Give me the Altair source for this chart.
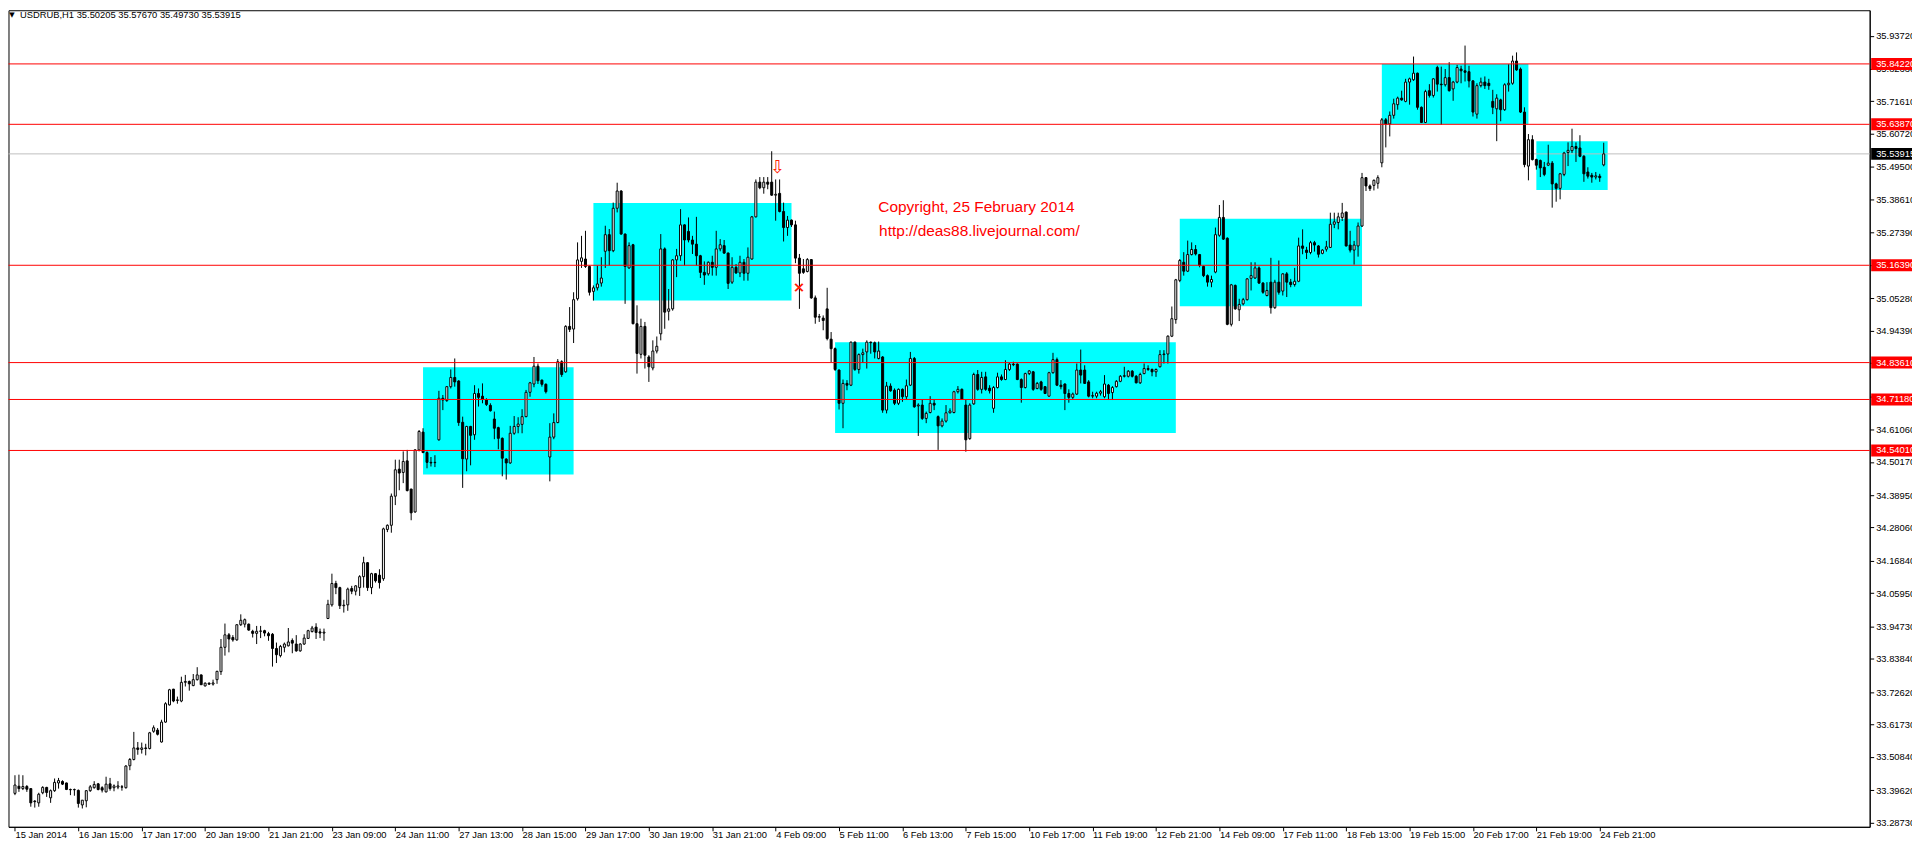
import altair as alt
import pandas as pd

# ---------------- data (USDRUB, H1, 15 Jan 2014 13:00 .. 25 Feb 2014 08:00) ----------------
opens = [
    33.385, 33.409, 33.401, 33.408, 33.401, 33.359, 33.353, 33.387, 33.405, 33.370,
    33.394, 33.420, 33.425, 33.420, 33.398, 33.397, 33.395, 33.346, 33.360, 33.394,
    33.404, 33.417, 33.404, 33.390, 33.417, 33.404, 33.406, 33.407, 33.404, 33.478,
    33.499, 33.538, 33.533, 33.538, 33.536, 33.594, 33.598, 33.558, 33.625, 33.683,
    33.736, 33.698, 33.696, 33.759, 33.762, 33.748, 33.768, 33.784, 33.747, 33.756,
    33.753, 33.768, 33.795, 33.877, 33.919, 33.910, 33.902, 33.953, 33.955, 33.955,
    33.931, 33.924, 33.931, 33.933, 33.923, 33.921, 33.873, 33.849, 33.877, 33.882,
    33.900, 33.888, 33.865, 33.888, 33.907, 33.930, 33.945, 33.929, 33.925, 33.974,
    34.020, 34.092, 34.078, 34.017, 34.020, 34.075, 34.066, 34.078, 34.115, 34.162,
    34.078, 34.125, 34.120, 34.108, 34.274, 34.288, 34.386, 34.477, 34.466, 34.505,
    34.410, 34.333, 34.542, 34.602, 34.533, 34.500, 34.499, 34.576, 34.716, 34.708,
    34.755, 34.786, 34.774, 34.635, 34.511, 34.621, 34.593, 34.732, 34.723, 34.710,
    34.692, 34.646, 34.617, 34.581, 34.511, 34.498, 34.598, 34.621, 34.628, 34.654,
    34.736, 34.764, 34.824, 34.777, 34.763, 34.518, 34.585, 34.634, 34.839, 34.805,
    34.958, 34.949, 35.051, 35.177, 35.185, 35.160, 35.076, 35.088, 35.104, 35.211,
    35.267, 35.213, 35.356, 35.414, 35.269, 35.155, 35.233, 34.967, 34.864, 34.958,
    34.855, 34.818, 34.875, 34.933, 35.219, 35.009, 35.017, 35.182, 35.196, 35.300,
    35.278, 35.249, 35.235, 35.196, 35.140, 35.135, 35.174, 35.157, 35.219, 35.230,
    35.205, 35.107, 35.157, 35.138, 35.174, 35.137, 35.185, 35.327, 35.444, 35.425,
    35.444, 35.444, 35.400, 35.406, 35.345, 35.291, 35.316, 35.300, 35.188, 35.152,
    35.143, 35.183, 35.054, 34.989, 34.986, 35.017, 34.915, 34.883, 34.811, 34.699,
    34.766, 34.760, 34.905, 34.813, 34.863, 34.872, 34.905, 34.903, 34.850, 34.855,
    34.676, 34.757, 34.743, 34.699, 34.746, 34.721, 34.760, 34.850, 34.690, 34.693,
    34.648, 34.668, 34.699, 34.654, 34.623, 34.639, 34.667, 34.668, 34.738, 34.746,
    34.693, 34.580, 34.697, 34.796, 34.746, 34.788, 34.750, 34.682, 34.752, 34.788,
    34.779, 34.813, 34.831, 34.831, 34.779, 34.752, 34.799, 34.805, 34.749, 34.771,
    34.755, 34.723, 34.802, 34.846, 34.760, 34.764, 34.732, 34.719, 34.730, 34.811,
    34.811, 34.771, 34.723, 34.723, 34.733, 34.721, 34.760, 34.735, 34.755, 34.773,
    34.790, 34.790, 34.807, 34.790, 34.768, 34.799, 34.816, 34.813, 34.805, 34.822,
    34.863, 34.865, 34.925, 34.981, 35.113, 35.174, 35.144, 35.200, 35.217, 35.200,
    35.160, 35.129, 35.107, 35.141, 35.265, 35.325, 35.255, 34.965, 35.096, 35.014,
    35.034, 35.048, 35.120, 35.121, 35.155, 35.104, 35.062, 35.107, 35.021, 35.107,
    35.077, 35.135, 35.107, 35.099, 35.110, 35.229, 35.215, 35.207, 35.240, 35.229,
    35.204, 35.218, 35.224, 35.302, 35.308, 35.325, 35.343, 35.232, 35.215, 35.229,
    35.296, 35.459, 35.431, 35.433, 35.440, 35.509, 35.654, 35.640, 35.669, 35.705,
    35.727, 35.716, 35.781, 35.789, 35.811, 35.696, 35.645, 35.752, 35.736, 35.830,
    35.774, 35.772, 35.796, 35.758, 35.781, 35.825, 35.819, 35.816, 35.785, 35.673,
    35.769, 35.781, 35.777, 35.716, 35.691, 35.721, 35.688, 35.772, 35.777, 35.852,
    35.825, 35.680, 35.498, 35.587, 35.520, 35.517, 35.494, 35.501, 35.508, 35.438,
    35.423, 35.470, 35.544, 35.550, 35.564, 35.559, 35.531, 35.478, 35.467, 35.461,
    35.464, 35.50205,
]
highs = [
    33.446, 33.448, 33.446, 33.413, 33.401, 33.362, 33.387, 33.409, 33.407, 33.398,
    33.435, 33.437, 33.429, 33.421, 33.401, 33.401, 33.398, 33.362, 33.396, 33.413,
    33.426, 33.420, 33.409, 33.441, 33.437, 33.415, 33.426, 33.413, 33.480, 33.504,
    33.592, 33.558, 33.556, 33.552, 33.592, 33.614, 33.605, 33.633, 33.692, 33.737,
    33.737, 33.711, 33.778, 33.784, 33.765, 33.787, 33.810, 33.785, 33.759, 33.759,
    33.768, 33.798, 33.905, 33.957, 33.925, 33.918, 33.955, 33.988, 33.974, 33.957,
    33.936, 33.949, 33.949, 33.936, 33.929, 33.925, 33.893, 33.885, 33.893, 33.942,
    33.907, 33.918, 33.891, 33.921, 33.936, 33.949, 33.958, 33.940, 33.940, 34.037,
    34.125, 34.101, 34.081, 34.037, 34.078, 34.084, 34.086, 34.120, 34.182, 34.164,
    34.128, 34.127, 34.140, 34.280, 34.291, 34.395, 34.509, 34.509, 34.537, 34.542,
    34.411, 34.544, 34.609, 34.615, 34.537, 34.518, 34.524, 34.741, 34.727, 34.757,
    34.813, 34.850, 34.777, 34.654, 34.623, 34.623, 34.760, 34.749, 34.766, 34.716,
    34.699, 34.671, 34.620, 34.584, 34.514, 34.623, 34.656, 34.652, 34.679, 34.744,
    34.771, 34.855, 34.833, 34.779, 34.766, 34.632, 34.665, 34.848, 34.844, 34.962,
    35.023, 35.073, 35.241, 35.263, 35.280, 35.163, 35.096, 35.163, 35.191, 35.297,
    35.286, 35.375, 35.442, 35.417, 35.271, 35.241, 35.236, 35.029, 34.984, 34.973,
    34.861, 34.911, 34.924, 35.269, 35.224, 35.084, 35.185, 35.219, 35.353, 35.302,
    35.325, 35.263, 35.327, 35.199, 35.177, 35.177, 35.196, 35.280, 35.252, 35.249,
    35.207, 35.191, 35.168, 35.196, 35.185, 35.224, 35.330, 35.453, 35.461, 35.461,
    35.461, 35.548, 35.453, 35.453, 35.375, 35.330, 35.318, 35.314, 35.202, 35.185,
    35.188, 35.185, 35.062, 35.000, 34.995, 35.088, 34.939, 34.887, 34.813, 34.779,
    34.777, 34.907, 34.907, 34.867, 34.883, 34.911, 34.907, 34.907, 34.907, 34.858,
    34.771, 34.766, 34.749, 34.749, 34.749, 34.779, 34.872, 34.855, 34.699, 34.712,
    34.671, 34.723, 34.712, 34.658, 34.648, 34.693, 34.682, 34.741, 34.757, 34.749,
    34.710, 34.699, 34.802, 34.811, 34.805, 34.805, 34.760, 34.757, 34.802, 34.796,
    34.844, 34.835, 34.839, 34.833, 34.783, 34.802, 34.811, 34.808, 34.771, 34.775,
    34.757, 34.805, 34.869, 34.853, 34.777, 34.766, 34.746, 34.735, 34.833, 34.880,
    34.827, 34.777, 34.738, 34.738, 34.744, 34.794, 34.764, 34.757, 34.777, 34.794,
    34.822, 34.811, 34.811, 34.794, 34.802, 34.833, 34.827, 34.816, 34.816, 34.878,
    34.878, 34.928, 35.025, 35.118, 35.185, 35.208, 35.247, 35.241, 35.232, 35.202,
    35.163, 35.133, 35.129, 35.291, 35.367, 35.383, 35.258, 35.101, 35.099, 35.051,
    35.054, 35.121, 35.174, 35.174, 35.160, 35.107, 35.107, 35.189, 35.115, 35.180,
    35.137, 35.141, 35.118, 35.155, 35.257, 35.285, 35.226, 35.246, 35.246, 35.232,
    35.218, 35.246, 35.341, 35.341, 35.341, 35.374, 35.345, 35.280, 35.246, 35.308,
    35.475, 35.461, 35.436, 35.453, 35.467, 35.660, 35.660, 35.682, 35.725, 35.732,
    35.752, 35.792, 35.796, 35.867, 35.813, 35.699, 35.755, 35.774, 35.794, 35.836,
    35.833, 35.825, 35.848, 35.785, 35.839, 35.836, 35.904, 35.836, 35.788, 35.777,
    35.796, 35.800, 35.792, 35.755, 35.740, 35.725, 35.777, 35.841, 35.870, 35.881,
    35.830, 35.696, 35.606, 35.602, 35.523, 35.520, 35.512, 35.570, 35.515, 35.442,
    35.475, 35.546, 35.578, 35.624, 35.578, 35.602, 35.535, 35.494, 35.475, 35.478,
    35.472, 35.57670,
]
lows = [
    33.379, 33.390, 33.396, 33.390, 33.340, 33.337, 33.340, 33.382, 33.373, 33.353,
    33.390, 33.401, 33.413, 33.396, 33.379, 33.377, 33.337, 33.334, 33.338, 33.390,
    33.401, 33.395, 33.388, 33.388, 33.394, 33.392, 33.399, 33.394, 33.401, 33.463,
    33.496, 33.515, 33.519, 33.513, 33.533, 33.589, 33.580, 33.556, 33.623, 33.681,
    33.692, 33.687, 33.692, 33.745, 33.731, 33.746, 33.765, 33.750, 33.745, 33.750,
    33.748, 33.754, 33.784, 33.849, 33.860, 33.896, 33.899, 33.949, 33.944, 33.933,
    33.910, 33.888, 33.908, 33.914, 33.899, 33.812, 33.824, 33.843, 33.860, 33.880,
    33.857, 33.862, 33.862, 33.885, 33.905, 33.927, 33.905, 33.908, 33.899, 33.972,
    34.014, 34.056, 34.006, 33.994, 34.000, 34.056, 34.052, 34.050, 34.078, 34.067,
    34.056, 34.095, 34.075, 34.101, 34.265, 34.263, 34.356, 34.406, 34.430, 34.402,
    34.305, 34.330, 34.537, 34.531, 34.480, 34.486, 34.484, 34.573, 34.676, 34.704,
    34.749, 34.755, 34.623, 34.414, 34.470, 34.490, 34.576, 34.688, 34.699, 34.690,
    34.671, 34.578, 34.544, 34.453, 34.442, 34.495, 34.593, 34.598, 34.598, 34.652,
    34.721, 34.753, 34.764, 34.755, 34.732, 34.436, 34.578, 34.632, 34.788, 34.802,
    34.939, 34.902, 35.045, 35.155, 35.155, 35.062, 35.045, 35.079, 35.092, 35.155,
    35.163, 35.208, 35.342, 35.267, 35.034, 35.152, 34.965, 34.799, 34.850, 34.816,
    34.771, 34.810, 34.867, 34.911, 34.950, 34.978, 35.011, 35.124, 35.179, 35.163,
    35.241, 35.202, 35.163, 35.121, 35.098, 35.129, 35.129, 35.129, 35.211, 35.202,
    35.084, 35.101, 35.135, 35.124, 35.112, 35.112, 35.183, 35.325, 35.420, 35.405,
    35.420, 35.398, 35.314, 35.342, 35.244, 35.263, 35.293, 35.171, 35.017, 35.135,
    35.140, 35.051, 34.967, 34.973, 34.945, 34.911, 34.838, 34.808, 34.678, 34.615,
    34.743, 34.757, 34.808, 34.799, 34.835, 34.816, 34.866, 34.850, 34.847, 34.667,
    34.665, 34.738, 34.693, 34.693, 34.704, 34.710, 34.757, 34.684, 34.589, 34.643,
    34.632, 34.665, 34.676, 34.542, 34.618, 34.634, 34.665, 34.665, 34.732, 34.710,
    34.536, 34.576, 34.694, 34.741, 34.732, 34.741, 34.732, 34.667, 34.749, 34.775,
    34.777, 34.808, 34.824, 34.777, 34.701, 34.749, 34.794, 34.741, 34.746, 34.741,
    34.730, 34.721, 34.799, 34.757, 34.746, 34.676, 34.701, 34.712, 34.727, 34.766,
    34.764, 34.719, 34.716, 34.716, 34.725, 34.716, 34.710, 34.710, 34.752, 34.770,
    34.786, 34.786, 34.786, 34.766, 34.764, 34.797, 34.808, 34.790, 34.788, 34.820,
    34.833, 34.833, 34.922, 34.967, 35.107, 35.129, 35.141, 35.197, 35.197, 35.157,
    35.124, 35.092, 35.090, 35.137, 35.260, 35.249, 34.962, 34.958, 35.014, 34.976,
    35.029, 35.045, 35.079, 35.118, 35.101, 35.068, 35.059, 35.001, 35.017, 35.065,
    35.062, 35.057, 35.090, 35.092, 35.107, 35.201, 35.185, 35.201, 35.210, 35.190,
    35.201, 35.210, 35.222, 35.289, 35.285, 35.313, 35.227, 35.207, 35.166, 35.193,
    35.293, 35.414, 35.414, 35.416, 35.422, 35.494, 35.561, 35.598, 35.658, 35.688,
    35.718, 35.713, 35.705, 35.785, 35.688, 35.643, 35.643, 35.729, 35.729, 35.749,
    35.637, 35.766, 35.749, 35.718, 35.777, 35.777, 35.783, 35.763, 35.665, 35.658,
    35.763, 35.758, 35.755, 35.673, 35.582, 35.649, 35.684, 35.749, 35.772, 35.819,
    35.677, 35.494, 35.450, 35.517, 35.486, 35.461, 35.464, 35.498, 35.358, 35.378,
    35.386, 35.464, 35.498, 35.542, 35.512, 35.528, 35.445, 35.456, 35.442, 35.453,
    35.445, 35.49730,
]
closes = [
    33.413, 33.401, 33.408, 33.399, 33.353, 33.357, 33.382, 33.405, 33.388, 33.394,
    33.422, 33.428, 33.416, 33.398, 33.397, 33.398, 33.351, 33.362, 33.394, 33.407,
    33.415, 33.398, 33.396, 33.416, 33.401, 33.410, 33.410, 33.406, 33.477, 33.499,
    33.538, 33.533, 33.538, 33.536, 33.589, 33.606, 33.584, 33.625, 33.687, 33.734,
    33.696, 33.700, 33.759, 33.762, 33.754, 33.768, 33.784, 33.751, 33.756, 33.753,
    33.757, 33.796, 33.877, 33.919, 33.905, 33.902, 33.953, 33.968, 33.970, 33.935,
    33.924, 33.931, 33.932, 33.925, 33.916, 33.873, 33.852, 33.880, 33.888, 33.895,
    33.891, 33.865, 33.888, 33.908, 33.933, 33.942, 33.927, 33.925, 33.928, 34.022,
    34.092, 34.078, 34.017, 34.019, 34.073, 34.066, 34.084, 34.115, 34.162, 34.078,
    34.125, 34.101, 34.095, 34.276, 34.288, 34.386, 34.475, 34.464, 34.503, 34.405,
    34.330, 34.542, 34.604, 34.533, 34.500, 34.498, 34.500, 34.716, 34.710, 34.755,
    34.786, 34.771, 34.634, 34.512, 34.621, 34.591, 34.732, 34.719, 34.712, 34.695,
    34.674, 34.615, 34.581, 34.514, 34.498, 34.598, 34.621, 34.629, 34.654, 34.736,
    34.768, 34.824, 34.775, 34.763, 34.738, 34.585, 34.634, 34.839, 34.796, 34.958,
    34.948, 35.048, 35.182, 35.189, 35.160, 35.073, 35.088, 35.101, 35.121, 35.267,
    35.213, 35.356, 35.414, 35.269, 35.160, 35.230, 34.967, 34.867, 34.958, 34.861,
    34.822, 34.875, 34.891, 35.219, 35.006, 35.017, 35.182, 35.196, 35.300, 35.249,
    35.249, 35.235, 35.196, 35.140, 35.131, 35.174, 35.157, 35.219, 35.233, 35.205,
    35.103, 35.157, 35.138, 35.174, 35.137, 35.191, 35.327, 35.444, 35.425, 35.444,
    35.437, 35.400, 35.403, 35.345, 35.291, 35.316, 35.300, 35.188, 35.137, 35.140,
    35.183, 35.054, 34.989, 34.991, 34.978, 34.917, 34.883, 34.813, 34.699, 34.766,
    34.760, 34.905, 34.813, 34.863, 34.869, 34.905, 34.903, 34.872, 34.875, 34.676,
    34.757, 34.741, 34.699, 34.746, 34.721, 34.758, 34.850, 34.687, 34.693, 34.648,
    34.665, 34.699, 34.693, 34.623, 34.639, 34.667, 34.673, 34.738, 34.746, 34.712,
    34.576, 34.693, 34.796, 34.746, 34.786, 34.746, 34.741, 34.752, 34.788, 34.779,
    34.813, 34.831, 34.829, 34.779, 34.752, 34.799, 34.808, 34.746, 34.766, 34.746,
    34.732, 34.802, 34.846, 34.760, 34.755, 34.732, 34.719, 34.730, 34.811, 34.794,
    34.766, 34.723, 34.725, 34.733, 34.738, 34.764, 34.732, 34.752, 34.773, 34.790,
    34.792, 34.807, 34.790, 34.768, 34.796, 34.816, 34.813, 34.805, 34.813, 34.863,
    34.865, 34.925, 34.984, 35.115, 35.180, 35.144, 35.200, 35.217, 35.202, 35.163,
    35.129, 35.107, 35.116, 35.267, 35.325, 35.252, 34.965, 35.098, 35.017, 35.032,
    35.048, 35.118, 35.129, 35.155, 35.104, 35.073, 35.079, 35.021, 35.107, 35.073,
    35.135, 35.107, 35.099, 35.110, 35.229, 35.221, 35.207, 35.240, 35.232, 35.201,
    35.215, 35.226, 35.302, 35.310, 35.327, 35.340, 35.229, 35.215, 35.232, 35.296,
    35.459, 35.431, 35.422, 35.450, 35.459, 35.654, 35.640, 35.669, 35.708, 35.727,
    35.721, 35.781, 35.792, 35.811, 35.696, 35.645, 35.749, 35.736, 35.792, 35.774,
    35.772, 35.796, 35.752, 35.781, 35.830, 35.819, 35.814, 35.785, 35.680, 35.769,
    35.781, 35.769, 35.769, 35.696, 35.727, 35.688, 35.772, 35.777, 35.852, 35.822,
    35.680, 35.503, 35.587, 35.520, 35.501, 35.492, 35.470, 35.508, 35.438, 35.423,
    35.472, 35.542, 35.551, 35.564, 35.557, 35.531, 35.472, 35.464, 35.461, 35.465,
    35.459, 35.53915,
]

time_labels = [
    "15 Jan 2014", "16 Jan 15:00", "17 Jan 17:00", "20 Jan 19:00", "21 Jan 21:00",
    "23 Jan 09:00", "24 Jan 11:00", "27 Jan 13:00", "28 Jan 15:00", "29 Jan 17:00",
    "30 Jan 19:00", "31 Jan 21:00", "4 Feb 09:00", "5 Feb 11:00", "6 Feb 13:00",
    "7 Feb 15:00", "10 Feb 17:00", "11 Feb 19:00", "12 Feb 21:00", "14 Feb 09:00",
    "17 Feb 11:00", "18 Feb 13:00", "19 Feb 15:00", "20 Feb 17:00", "21 Feb 19:00",
    "24 Feb 21:00",
]
bars_per_label = 16

price_ticks = [
    35.9372, 35.8263, 35.7161, 35.6072, 35.4950, 35.3861, 35.2739, 35.1630, 35.0528,
    34.9439, 34.8350, 34.7206, 34.6106, 34.5017, 34.3895, 34.2806, 34.1684, 34.0595,
    33.9473, 33.8384, 33.7262, 33.6173, 33.5084, 33.3962, 33.2873,
]

level_prices = [35.8422, 35.6387, 35.1639, 34.8361, 34.7118, 34.5401]
bid_price = 35.53915

box_start = [103, 146, 207, 294, 345, 384]
box_end = [141, 196, 293, 340, 382, 402]
box_top = [34.8204, 35.3739, 34.9043, 35.3202, 35.8422, 35.5819]
box_bottom = [34.4591, 35.0451, 34.5990, 35.0260, 35.6387, 35.4175]

symbol = "USDRUB,H1"
copyright_lines = ["Copyright, 25 February 2014", "http://deas88.livejournal.com/"]
copyright_bar = [217.9, 218.1]
copyright_price = [35.3605, 35.2800]
sell_arrow = (192.5, 35.4913)
stop_mark = (197.9, 35.0898)

# ---------------- frames ----------------
n = len(closes)
bars = pd.DataFrame({"i": list(range(n)), "open": opens, "high": highs,
                     "low": lows, "close": closes})
bars["hi"] = bars[["open", "high", "close"]].max(axis=1)
bars["lo"] = bars[["open", "low", "close"]].min(axis=1)

boxes_df = pd.DataFrame({"x1": box_start, "x2": box_end, "top": box_top, "bottom": box_bottom})
levels_df = pd.DataFrame({"p": level_prices, "lab": [f"{p:.5f}" for p in level_prices]})
bid_df = pd.DataFrame({"p": [bid_price], "lab": [f"{bid_price:.5f}"]})
copy_df = pd.DataFrame({"i": copyright_bar, "p": copyright_price, "t": copyright_lines})
arrow_df = pd.DataFrame({"i": [sell_arrow[0]], "p": [sell_arrow[1]], "t": ["\u21e9"]})
stop_df = pd.DataFrame({"i": [stop_mark[0]], "p": [stop_mark[1]], "t": ["\u00d7"]})
header_df = pd.DataFrame({"t": [f"{symbol}  {opens[-1]:.5f} {highs[-1]:.5f} {lows[-1]:.5f} {closes[-1]:.5f}"]})
tri_df = pd.DataFrame({"t": ["\u25bc"]})

# ---------------- layout ----------------
W, H = 1869, 820
FONT = "Liberation Sans"
FS = 9.4
# one bar = 4 px, bar centres on half pixels so bodies and wicks stay crisp
xs = alt.Scale(domain=[-0.375, 466.875], nice=False, zero=False)
ys = alt.Scale(domain=[33.2723, 36.0230], nice=False, zero=False)

tick_idx = [k * bars_per_label for k in range(len(time_labels))]
label_js = "[" + ",".join("'" + t + "'" for t in time_labels) + "]"
x_axis = alt.Axis(
    values=tick_idx, tickCount=60,
    labelExpr=label_js + f"[round(datum.value / {bars_per_label})]",
    title=None, grid=False, tickSize=4, tickColor="black", tickWidth=1,
    domainColor="black", domainWidth=1, labelAlign="left", labelBaseline="top",
    labelPadding=0, labelFont=FONT, labelFontSize=FS, labelColor="black",
    labelOverlap=False, labelFlush=False, labelBound=False,
)
y_axis = alt.Axis(
    orient="right", values=price_ticks, tickCount=60, format=".5f", title=None, grid=False,
    tickSize=4, tickColor="black", tickWidth=1, domainColor="black", domainWidth=1,
    labelPadding=2, labelFont=FONT, labelFontSize=FS, labelColor="black",
    labelOverlap=False, labelFlush=False, labelBaseline="middle",
)

boxes = alt.Chart(boxes_df).mark_rect(color="#00FFFF").encode(
    x=alt.X("x1:Q", scale=xs, axis=x_axis, title=None),
    x2="x2:Q",
    y=alt.Y("top:Q", scale=ys, axis=y_axis, title=None),
    y2="bottom:Q",
)

bid_line = alt.Chart(bid_df).mark_rule(color="#C0C0C0", strokeWidth=1).encode(
    y=alt.Y("p:Q", scale=ys, title=None))

wicks = alt.Chart(bars).mark_rule(color="black", strokeWidth=1).encode(
    x=alt.X("i:Q", scale=xs, title=None),
    y=alt.Y("lo:Q", scale=ys, title=None),
    y2="hi:Q",
)
bodies = alt.Chart(bars).mark_bar(size=2, stroke="black", strokeWidth=1).encode(
    x=alt.X("i:Q", scale=xs, title=None),
    y=alt.Y("open:Q", scale=ys, title=None),
    y2="close:Q",
    fill=alt.condition(alt.datum.close > alt.datum.open, alt.value("white"), alt.value("black")),
)

level_lines = alt.Chart(levels_df).mark_rule(color="#FF0000", strokeWidth=1).encode(
    y=alt.Y("p:Q", scale=ys, title=None))

level_tags = alt.Chart(levels_df).mark_rule(color="#FF0000", strokeWidth=12).encode(
    y=alt.Y("p:Q", scale=ys, title=None), x=alt.value(W + 1.5), x2=alt.value(W + 60))
level_text = alt.Chart(levels_df).mark_text(
    align="left", baseline="middle", color="white", font=FONT, fontSize=FS).encode(
    y=alt.Y("p:Q", scale=ys, title=None), x=alt.value(W + 6.5), text="lab:N")

bid_tag = alt.Chart(bid_df).mark_rule(color="black", strokeWidth=12).encode(
    y=alt.Y("p:Q", scale=ys, title=None), x=alt.value(W + 1.5), x2=alt.value(W + 60))
bid_text = alt.Chart(bid_df).mark_text(
    align="left", baseline="middle", color="white", font=FONT, fontSize=FS).encode(
    y=alt.Y("p:Q", scale=ys, title=None), x=alt.value(W + 6.5), text="lab:N")

copy_text = alt.Chart(copy_df).mark_text(
    align="left", baseline="middle", color="#FF0000", font=FONT, fontSize=15.5).encode(
    x=alt.X("i:Q", scale=xs, title=None), y=alt.Y("p:Q", scale=ys, title=None), text="t:N")

arrow = alt.Chart(arrow_df).mark_text(
    align="center", baseline="middle", color="#FF2000", font="DejaVu Sans", fontSize=18).encode(
    x=alt.X("i:Q", scale=xs, title=None), y=alt.Y("p:Q", scale=ys, title=None), text="t:N")
stop = alt.Chart(stop_df).mark_text(
    align="center", baseline="middle", color="#FF2000", font="DejaVu Sans", fontSize=15,
    fontWeight="bold").encode(
    x=alt.X("i:Q", scale=xs, title=None), y=alt.Y("p:Q", scale=ys, title=None), text="t:N")

header_tri = alt.Chart(tri_df).mark_text(
    align="center", baseline="middle", color="black", font="DejaVu Sans", fontSize=7).encode(
    x=alt.value(3.5), y=alt.value(5), text="t:N")
header = alt.Chart(header_df).mark_text(
    align="left", baseline="middle", color="black", font=FONT, fontSize=FS).encode(
    x=alt.value(11.5), y=alt.value(5), text="t:N")

chart = alt.layer(
    boxes, bid_line, wicks, bodies, level_lines, level_tags, level_text,
    bid_tag, bid_text, copy_text, arrow, stop, header_tri, header,
).properties(
    width=W, height=H,
    padding={"left": 0.5, "top": 0.5, "right": 42.5, "bottom": 13.5},
    autosize=alt.AutoSizeParams(type="none"),
    background="white",
).configure_view(stroke="black", strokeWidth=1)

chart.save("out.html", embed_options={"renderer": "svg", "actions": False})
